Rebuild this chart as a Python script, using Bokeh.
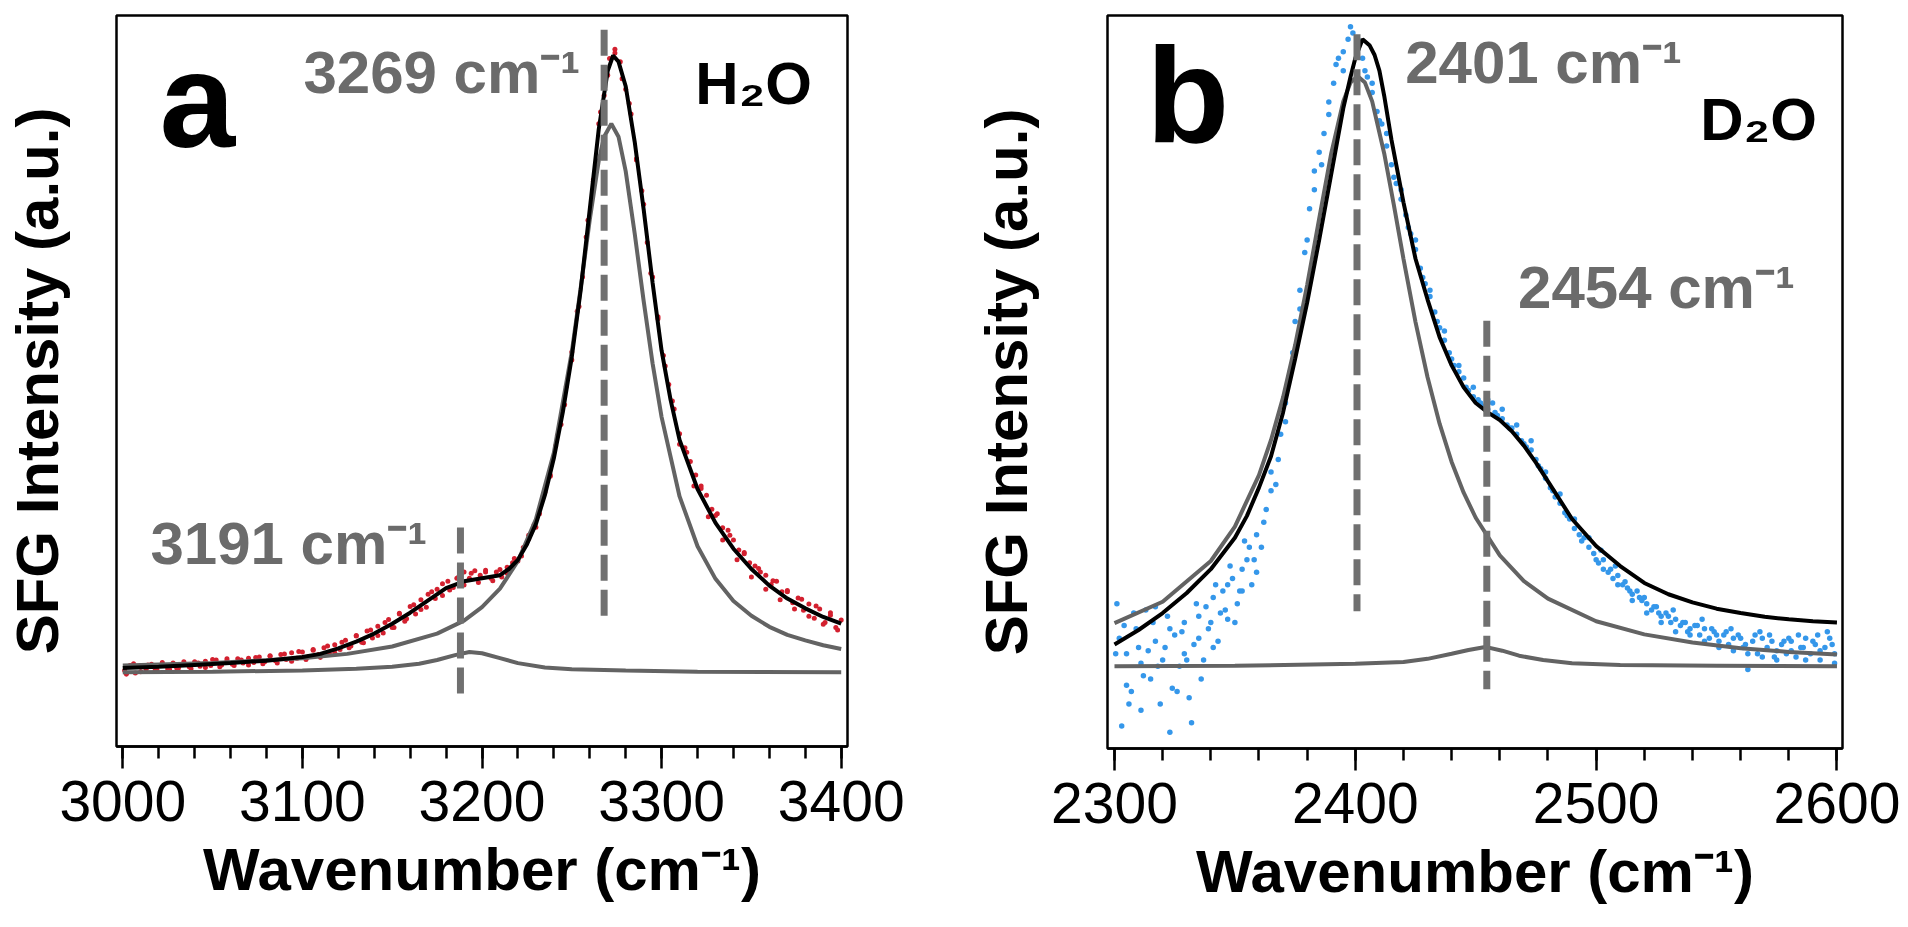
from bokeh.plotting import figure
from bokeh.layouts import row
from bokeh.models import Label, Range1d, FixedTicker
from bokeh.embed import file_html
from bokeh.resources import INLINE

# ---------------- Panel a : H2O ----------------
a_ticks = [3000, 3100, 3200, 3300, 3400]
a_minor = [3000, 3020, 3040, 3060, 3080, 3100, 3120, 3140, 3160, 3180, 3200,
           3220, 3240, 3260, 3280, 3300, 3320, 3340, 3360, 3380, 3400]

a_data_x = [3001, 3004, 3007, 3010, 3013, 3016, 3019, 3022, 3025, 3028, 3031, 3034, 3037, 3040,
            3043, 3046, 3049, 3052, 3055, 3058, 3061, 3064, 3067, 3070, 3073, 3076, 3079, 3082,
            3085, 3088, 3091, 3094, 3097, 3100, 3103, 3106, 3109, 3112, 3115, 3118, 3121, 3124,
            3127, 3130, 3133, 3136, 3139, 3142, 3145, 3148, 3151, 3154, 3157, 3160, 3163, 3166,
            3169, 3172, 3175, 3178, 3181, 3184, 3187, 3190, 3193, 3196, 3199, 3202, 3205, 3208,
            3211, 3214, 3217, 3220, 3223, 3226, 3229, 3232, 3235, 3238, 3241, 3244, 3247, 3250,
            3253, 3256, 3259, 3262, 3265, 3268, 3271, 3274, 3277, 3280, 3283, 3286, 3289, 3292,
            3295, 3298, 3301, 3304, 3307, 3310, 3313, 3316, 3319, 3322, 3325, 3328, 3331, 3334,
            3337, 3340, 3343, 3346, 3349, 3352, 3355, 3358, 3361, 3364, 3367, 3370, 3373, 3376,
            3379, 3382, 3385, 3388, 3391, 3394, 3397, 3400]
a_data_y = [0.000, 0.008, -0.004, 0.006, 0.002, 0.010, 0.001, 0.009, 0.003, 0.012, 0.004, 0.011, 0.006, 0.014,
            0.007, 0.015, 0.008, 0.017, 0.009, 0.016, 0.010, 0.019, 0.012, 0.020, 0.013, 0.022, 0.014, 0.024,
            0.016, 0.026, 0.018, 0.029, 0.020, 0.030, 0.022, 0.033, 0.026, 0.037, 0.028, 0.042, 0.034, 0.049,
            0.040, 0.056, 0.046, 0.064, 0.053, 0.072, 0.061, 0.083, 0.070, 0.093, 0.080, 0.104, 0.092, 0.115,
            0.103, 0.128, 0.132, 0.122, 0.145, 0.135, 0.152, 0.160, 0.150, 0.162, 0.155, 0.163, 0.150, 0.160,
            0.152, 0.168, 0.175, 0.178, 0.200, 0.214, 0.237, 0.255, 0.290, 0.318, 0.365, 0.400, 0.462, 0.505,
            0.584, 0.640, 0.732, 0.798, 0.889, 0.935, 0.995, 1.010, 0.990, 0.945, 0.905, 0.832, 0.780, 0.696,
            0.640, 0.572, 0.512, 0.465, 0.425, 0.385, 0.362, 0.340, 0.318, 0.300, 0.285, 0.262, 0.255, 0.232,
            0.228, 0.212, 0.196, 0.192, 0.175, 0.170, 0.160, 0.155, 0.140, 0.145, 0.128, 0.130, 0.110, 0.118,
            0.098, 0.108, 0.085, 0.100, 0.078, 0.090, 0.070, 0.082]

a_data2_x = [3002, 3006, 3010, 3014, 3018, 3022, 3026, 3030, 3034, 3038, 3042, 3046, 3050, 3054, 3058,
             3062, 3066, 3070, 3074, 3078, 3082, 3086, 3090, 3094, 3098, 3102, 3106, 3110, 3114, 3118,
             3122, 3126, 3130, 3134, 3138, 3142, 3146, 3150, 3154, 3158, 3162, 3166, 3170, 3174, 3178,
             3182, 3186, 3190, 3194, 3198, 3202, 3206, 3210, 3214, 3218, 3222, 3226, 3230, 3234, 3238,
             3242, 3246, 3250, 3254, 3258, 3262, 3266, 3270, 3274, 3278, 3282, 3286, 3290, 3294, 3298,
             3302, 3306, 3310, 3314, 3318, 3322, 3326, 3330, 3334, 3338, 3342, 3346, 3350, 3354, 3358,
             3362, 3366, 3370, 3374, 3378, 3382, 3386, 3390, 3394, 3398]
a_data2_y = [-0.006, 0.011, -0.002, 0.009, 0.000, 0.013, 0.002, 0.004, 0.014, 0.003, 0.012, 0.005, 0.018, 0.006, 0.019,
             0.008, 0.017, 0.009, 0.021, 0.011, 0.023, 0.012, 0.027, 0.015, 0.031, 0.018, 0.034, 0.021, 0.040, 0.029,
             0.046, 0.037, 0.057, 0.045, 0.066, 0.057, 0.078, 0.070, 0.092, 0.084, 0.107, 0.099, 0.124, 0.117, 0.141,
             0.131, 0.150, 0.139, 0.158, 0.143, 0.160, 0.146, 0.164, 0.158, 0.182, 0.186, 0.220, 0.233, 0.283, 0.316,
             0.382, 0.432, 0.518, 0.592, 0.705, 0.795, 0.908, 0.968, 1.004, 0.962, 0.922, 0.830, 0.758, 0.646, 0.575,
             0.495, 0.438, 0.368, 0.355, 0.300, 0.296, 0.250, 0.252, 0.212, 0.220, 0.180, 0.190, 0.152, 0.166, 0.132,
             0.146, 0.115, 0.128, 0.100, 0.116, 0.088, 0.105, 0.075, 0.094, 0.066]

a_fit_x = [3000, 3020, 3040, 3060, 3080, 3100, 3110, 3120, 3130, 3140, 3150, 3160, 3170, 3180,
           3190, 3200, 3210, 3215, 3220, 3225, 3230, 3235, 3240, 3245, 3250, 3255, 3260, 3265,
           3270, 3273, 3276, 3280, 3285, 3290, 3295, 3300, 3305, 3310, 3320, 3330, 3340, 3350,
           3360, 3370, 3380, 3390, 3400]
a_fit_y = [0.004, 0.006, 0.009, 0.012, 0.016, 0.022, 0.027, 0.036, 0.047, 0.060, 0.076, 0.094, 0.114, 0.134,
           0.145, 0.150, 0.155, 0.165, 0.180, 0.205, 0.238, 0.285, 0.345, 0.420, 0.510, 0.620, 0.750, 0.880,
           0.975, 1.000, 0.990, 0.950, 0.860, 0.750, 0.630, 0.520, 0.440, 0.375, 0.295, 0.240, 0.198, 0.165,
           0.138, 0.117, 0.101, 0.087, 0.076]

a_c1_x = [3000, 3050, 3100, 3125, 3150, 3175, 3190, 3200, 3210, 3220, 3230, 3240, 3250, 3255, 3260,
          3265, 3268, 3272, 3276, 3280, 3285, 3290, 3295, 3300, 3310, 3320, 3330, 3340, 3350, 3360,
          3370, 3380, 3390, 3400]
a_c1_y = [0.008, 0.012, 0.020, 0.027, 0.039, 0.060, 0.081, 0.103, 0.133, 0.178, 0.246, 0.354, 0.518, 0.623,
          0.733, 0.829, 0.868, 0.889, 0.868, 0.812, 0.711, 0.601, 0.499, 0.412, 0.283, 0.202, 0.149, 0.113,
          0.089, 0.071, 0.058, 0.049, 0.041, 0.035]

a_c2_x = [3000, 3050, 3100, 3130, 3150, 3165, 3175, 3185, 3193, 3200, 3210, 3220, 3235, 3250, 3280, 3320, 3400]
a_c2_y = [-0.003, -0.002, 0.000, 0.003, 0.006, 0.011, 0.017, 0.025, 0.030, 0.028, 0.020, 0.012, 0.005,
          0.002, 0.000, -0.002, -0.003]

a_peaks = ["3269 cm\u207b\u00b9", "3191 cm\u207b\u00b9"]

# ---------------- Panel b : D2O ----------------
b_ticks = [2300, 2400, 2500, 2600]
b_minor = [2300, 2320, 2340, 2360, 2380, 2400, 2420, 2440, 2460, 2480, 2500,
           2520, 2540, 2560, 2580, 2600]

b_data_x = [2301, 2303, 2305, 2307, 2309, 2311, 2313, 2315, 2317, 2319, 2321, 2323, 2325, 2327, 2329,
            2331, 2333, 2335, 2337, 2339, 2341, 2343, 2345, 2347, 2349, 2351, 2353, 2355, 2357, 2359,
            2361, 2363, 2365, 2367, 2369, 2371, 2373, 2375, 2377, 2379, 2381, 2383, 2385, 2387, 2389,
            2391, 2393, 2395, 2397, 2399, 2401, 2403, 2405, 2407, 2409, 2411, 2413, 2415, 2417, 2419,
            2421, 2423, 2425, 2427, 2429, 2431, 2433, 2435, 2437, 2439, 2441, 2443, 2445, 2447, 2449,
            2451, 2453, 2455, 2457, 2459, 2461, 2463, 2465, 2467, 2469, 2471, 2473, 2475, 2477, 2479,
            2481, 2483, 2485, 2487, 2489, 2491, 2493, 2495, 2497, 2499, 2501, 2503, 2505, 2507, 2509,
            2511, 2513, 2515, 2517, 2519, 2521, 2523, 2525, 2527, 2529, 2531, 2533, 2535, 2537, 2539,
            2541, 2543, 2545, 2547, 2549, 2551, 2553, 2555, 2557, 2559, 2561, 2563, 2565, 2567, 2569,
            2571, 2573, 2575, 2577, 2579, 2581, 2583, 2585, 2587, 2589, 2591, 2593, 2595, 2597, 2599]
b_data_y = [0.100, -0.095, 0.020, -0.040, 0.060, 0.005, 0.090, -0.020, 0.040, -0.060, 0.030, -0.105, 0.050, 0.000, 0.070,
            -0.050, 0.035, 0.080, 0.010, 0.060, 0.110, 0.040, 0.120, 0.075, 0.140, 0.100, 0.155, 0.170, 0.130, 0.210,
            0.190, 0.250, 0.310, 0.290, 0.370, 0.420, 0.470, 0.550, 0.600, 0.660, 0.730, 0.760, 0.820, 0.850, 0.900,
            0.930, 0.970, 0.980, 1.000, 1.010, 0.985, 0.970, 0.940, 0.915, 0.885, 0.865, 0.830, 0.800, 0.770, 0.745,
            0.720, 0.690, 0.665, 0.635, 0.610, 0.590, 0.565, 0.540, 0.520, 0.500, 0.480, 0.470, 0.460, 0.440, 0.430,
            0.425, 0.415, 0.410, 0.420, 0.400, 0.395, 0.385, 0.380, 0.370, 0.360, 0.350, 0.345, 0.330, 0.315, 0.300,
            0.285, 0.270, 0.260, 0.245, 0.235, 0.220, 0.210, 0.205, 0.190, 0.180, 0.165, 0.170, 0.150, 0.140, 0.145,
            0.130, 0.125, 0.115, 0.120, 0.105, 0.100, 0.090, 0.095, 0.080, 0.085, 0.070, 0.075, 0.065, 0.070, 0.060,
            0.065, 0.050, 0.060, 0.045, 0.055, 0.040, 0.050, 0.035, 0.045, 0.050, 0.030, -0.005, 0.040, 0.020, 0.045,
            0.030, 0.040, 0.025, 0.035, 0.020, 0.040, 0.015, 0.030, 0.045, 0.020, 0.035, 0.010, 0.030, 0.045, 0.020]

b_data2_x = [2302, 2305, 2308, 2311, 2314, 2317, 2320, 2323, 2326, 2329, 2332, 2335, 2338, 2341, 2344,
             2347, 2350, 2353, 2356, 2359, 2362, 2365, 2368, 2371, 2374, 2377, 2380, 2383, 2386, 2389,
             2392, 2395, 2398, 2401, 2404, 2407, 2410, 2413, 2416, 2419, 2422, 2425, 2428, 2431, 2434,
             2437, 2440, 2443, 2446, 2449, 2452, 2455, 2458, 2461, 2464, 2467, 2470, 2473, 2476, 2479,
             2482, 2485, 2488, 2491, 2494, 2497, 2500, 2503, 2506, 2509, 2512, 2515, 2518, 2521, 2524,
             2527, 2530, 2533, 2536, 2539, 2542, 2545, 2548, 2551, 2554, 2557, 2560, 2563, 2566, 2569,
             2572, 2575, 2578, 2581, 2584, 2587, 2590, 2593, 2596, 2599]
b_data2_y = [0.045, -0.030, 0.085, -0.070, 0.025, 0.095, 0.010, 0.060, -0.040, 0.020, -0.090, 0.045, 0.095, 0.030, 0.085,
             0.130, 0.070, 0.120, 0.190, 0.150, 0.230, 0.280, 0.330, 0.390, 0.500, 0.570, 0.680, 0.790, 0.800, 0.880,
             0.960, 0.950, 1.020, 1.000, 0.950, 0.930, 0.870, 0.850, 0.780, 0.760, 0.700, 0.680, 0.620, 0.600, 0.550,
             0.535, 0.490, 0.480, 0.445, 0.445, 0.420, 0.425, 0.405, 0.410, 0.380, 0.385, 0.355, 0.360, 0.320, 0.310,
             0.280, 0.275, 0.240, 0.235, 0.200, 0.205, 0.170, 0.155, 0.155, 0.130, 0.135, 0.105, 0.110, 0.085, 0.095,
             0.070, 0.080, 0.055, 0.070, 0.050, 0.065, 0.040, 0.060, 0.030, 0.055, 0.025, 0.045, 0.020, 0.050, 0.015,
             0.050, 0.010, 0.040, 0.025, 0.050, 0.010, 0.040, 0.025, 0.055, 0.005]

b_data3_x = [2300.5, 2304, 2306, 2310, 2312, 2316, 2318, 2322, 2324, 2328, 2330, 2334, 2336, 2340, 2342,
             2346, 2348, 2352, 2354, 2358, 2502, 2508, 2514, 2520, 2526, 2532, 2538, 2544, 2550, 2556,
             2562, 2568, 2574, 2580, 2586, 2592, 2598]
b_data3_y = [0.020, 0.065, -0.060, 0.030, -0.015, 0.070, 0.000, 0.080, -0.035, 0.055, 0.010, 0.100, -0.020, 0.070, 0.130,
             0.090, 0.160, 0.120, 0.200, 0.170, 0.185, 0.160, 0.120, 0.110, 0.085, 0.090, 0.055, 0.075, 0.050, 0.060,
             0.035, 0.055, 0.015, 0.045, 0.030, 0.050, 0.035]

b_fit_x = [2300, 2310, 2320, 2330, 2340, 2350, 2355, 2360, 2365, 2370, 2375, 2380, 2385, 2390, 2395,
           2398, 2400, 2403, 2406, 2408, 2410, 2412, 2415, 2420, 2425, 2430, 2435, 2440, 2445, 2450,
           2455, 2460, 2465, 2470, 2475, 2480, 2490, 2500, 2510, 2520, 2530, 2540, 2550, 2560, 2570,
           2580, 2590, 2600]
b_fit_y = [0.035, 0.058, 0.085, 0.117, 0.155, 0.205, 0.240, 0.285, 0.335, 0.405, 0.490, 0.580, 0.680, 0.785, 0.890,
           0.940, 0.970, 1.000, 0.990, 0.975, 0.950, 0.910, 0.840, 0.740, 0.650, 0.585, 0.525, 0.480, 0.445, 0.420,
           0.405, 0.393, 0.375, 0.352, 0.325, 0.295, 0.235, 0.192, 0.160, 0.133, 0.115, 0.102, 0.092, 0.085, 0.079,
           0.075, 0.072, 0.070]

b_c1_x = [2300, 2320, 2340, 2350, 2360, 2365, 2370, 2375, 2380, 2385, 2390, 2395, 2398, 2401, 2404,
          2407, 2412, 2416, 2420, 2425, 2430, 2435, 2440, 2445, 2450, 2460, 2470, 2480, 2500, 2520,
          2540, 2560, 2580, 2600]
b_c1_y = [0.069, 0.103, 0.168, 0.223, 0.305, 0.361, 0.429, 0.512, 0.608, 0.714, 0.818, 0.901, 0.931, 0.941, 0.931,
          0.901, 0.818, 0.736, 0.650, 0.549, 0.461, 0.387, 0.326, 0.277, 0.237, 0.177, 0.136, 0.108, 0.072, 0.051,
          0.038, 0.029, 0.023, 0.019]

b_c2_x = [2300, 2350, 2400, 2420, 2430, 2440, 2447, 2454, 2461, 2468, 2478, 2490, 2510, 2550, 2600]
b_c2_y = [0.000, 0.001, 0.004, 0.007, 0.012, 0.020, 0.026, 0.031, 0.025, 0.017, 0.010, 0.005, 0.002, 0.001, 0.000]

b_peaks = ["2401 cm\u207b\u00b9", "2454 cm\u207b\u00b9"]

# ---------------- styling ----------------
FONT = "Liberation Sans"
GRAY = "#636363"
DASH_GRAY = "#707070"
LABEL_GRAY = "#6b6b6b"


def make_panel(xr, yr, ticks, minor, border, frame, ylab_standoff):
    p = figure(output_backend="svg", toolbar_location=None,
               frame_width=frame[0], frame_height=frame[1],
               x_range=Range1d(*xr), y_range=Range1d(*yr))
    p.min_border_left, p.min_border_right, p.min_border_top, p.min_border_bottom = border
    p.background_fill_color = "white"
    p.border_fill_color = "white"
    p.grid.visible = False
    p.outline_line_color = "black"
    p.outline_line_width = 2.5
    p.outline_line_alpha = 1.0

    xa = p.xaxis[0]
    xa.ticker = FixedTicker(ticks=ticks, minor_ticks=minor)
    xa.axis_line_color = "black"
    xa.axis_line_width = 2.5
    xa.major_tick_line_color = "black"
    xa.major_tick_line_width = 2.5
    xa.minor_tick_line_color = "black"
    xa.minor_tick_line_width = 2.5
    xa.major_tick_in = 0
    xa.major_tick_out = 22
    xa.minor_tick_in = 0
    xa.minor_tick_out = 12
    xa.major_label_text_font = FONT
    xa.major_label_text_font_size = "57px"
    xa.major_label_text_color = "black"
    xa.major_label_standoff = 12
    xa.axis_label = "Wavenumber (cm\u207b\u00b9)"
    xa.axis_label_text_font = FONT
    xa.axis_label_text_font_style = "bold"
    xa.axis_label_text_font_size = "60px"
    xa.axis_label_text_color = "black"
    xa.axis_label_standoff = 12

    ya = p.yaxis[0]
    ya.ticker = FixedTicker(ticks=[])
    ya.axis_line_color = None
    ya.major_tick_line_color = None
    ya.minor_tick_line_color = None
    ya.major_label_text_font_size = "0px"
    ya.axis_label = "SFG Intensity (a.u.)"
    ya.axis_label_text_font = FONT
    ya.axis_label_text_font_style = "bold"
    ya.axis_label_text_font_size = "60px"
    ya.axis_label_text_color = "black"
    ya.axis_label_standoff = ylab_standoff
    return p


def add_label(p, x, y, text, size, color, style="bold"):
    p.add_layout(Label(x=x, y=y, text=text, text_font=FONT, text_font_size=size,
                       text_font_style=style, text_color=color,
                       text_align="left", text_baseline="alphabetic"))


# ---- panel a ----
pa = make_panel((2996.5, 3403.5), (-0.1236, 1.065), a_ticks, a_minor,
                (116, 113, 15, 170), (731, 731), 46)
pa.scatter(a_data_x, a_data_y, size=5, color="#d3202f", line_color=None)
pa.scatter(a_data2_x, a_data2_y, size=5, color="#d3202f", line_color=None)
pa.line(a_c2_x, a_c2_y, line_color=GRAY, line_width=4)
pa.line(a_c1_x, a_c1_y, line_color=GRAY, line_width=4)
pa.line(a_fit_x, a_fit_y, line_color="black", line_width=4)
pa.segment(x0=[3268, 3188], y0=[1.042, 0.2325], x1=[3268, 3188], y1=[0.0764, -0.052],
           line_color=DASH_GRAY, line_width=7, line_dash="26 9")
add_label(pa, 3020.4, 0.9269, "a", "136px", "black")
add_label(pa, 3100.6, 0.9724, a_peaks[0], "60px", LABEL_GRAY)
add_label(pa, 3015.4, 0.2065, a_peaks[1], "60px", LABEL_GRAY)
add_label(pa, 3318.8, 0.9545, "H\u2082O", "60px", "black")

# ---- panel b ----
pb = make_panel((2297.1, 2602.3), (-0.131, 1.038), b_ticks, b_minor,
                (147, 60, 11, 170), (735, 733), 68)
pb.scatter(b_data_x, b_data_y, size=5.5, color="#3597ea", line_color=None)
pb.scatter(b_data2_x, b_data2_y, size=5.5, color="#3597ea", line_color=None)
pb.scatter(b_data3_x, b_data3_y, size=5.5, color="#3597ea", line_color=None)
pb.line(b_c2_x, b_c2_y, line_color=GRAY, line_width=4)
pb.line(b_c1_x, b_c1_y, line_color=GRAY, line_width=4)
pb.line(b_fit_x, b_fit_y, line_color="black", line_width=4)
pb.segment(x0=[2400.7, 2454.6], y0=[1.008, 0.551], x1=[2400.7, 2454.6], y1=[0.088, -0.0367],
           line_color=DASH_GRAY, line_width=7, line_dash="26 9")
add_label(pb, 2313.2, 0.9106, "b", "136px", "black")
add_label(pb, 2420.7, 0.9633, b_peaks[0], "60px", LABEL_GRAY)
add_label(pb, 2467.6, 0.6044, b_peaks[1], "60px", LABEL_GRAY)
add_label(pb, 2543.2, 0.8724, "D\u2082O", "60px", "black")

layout = row(pa, pb)
open("out.html", "w").write(file_html(layout, INLINE))
